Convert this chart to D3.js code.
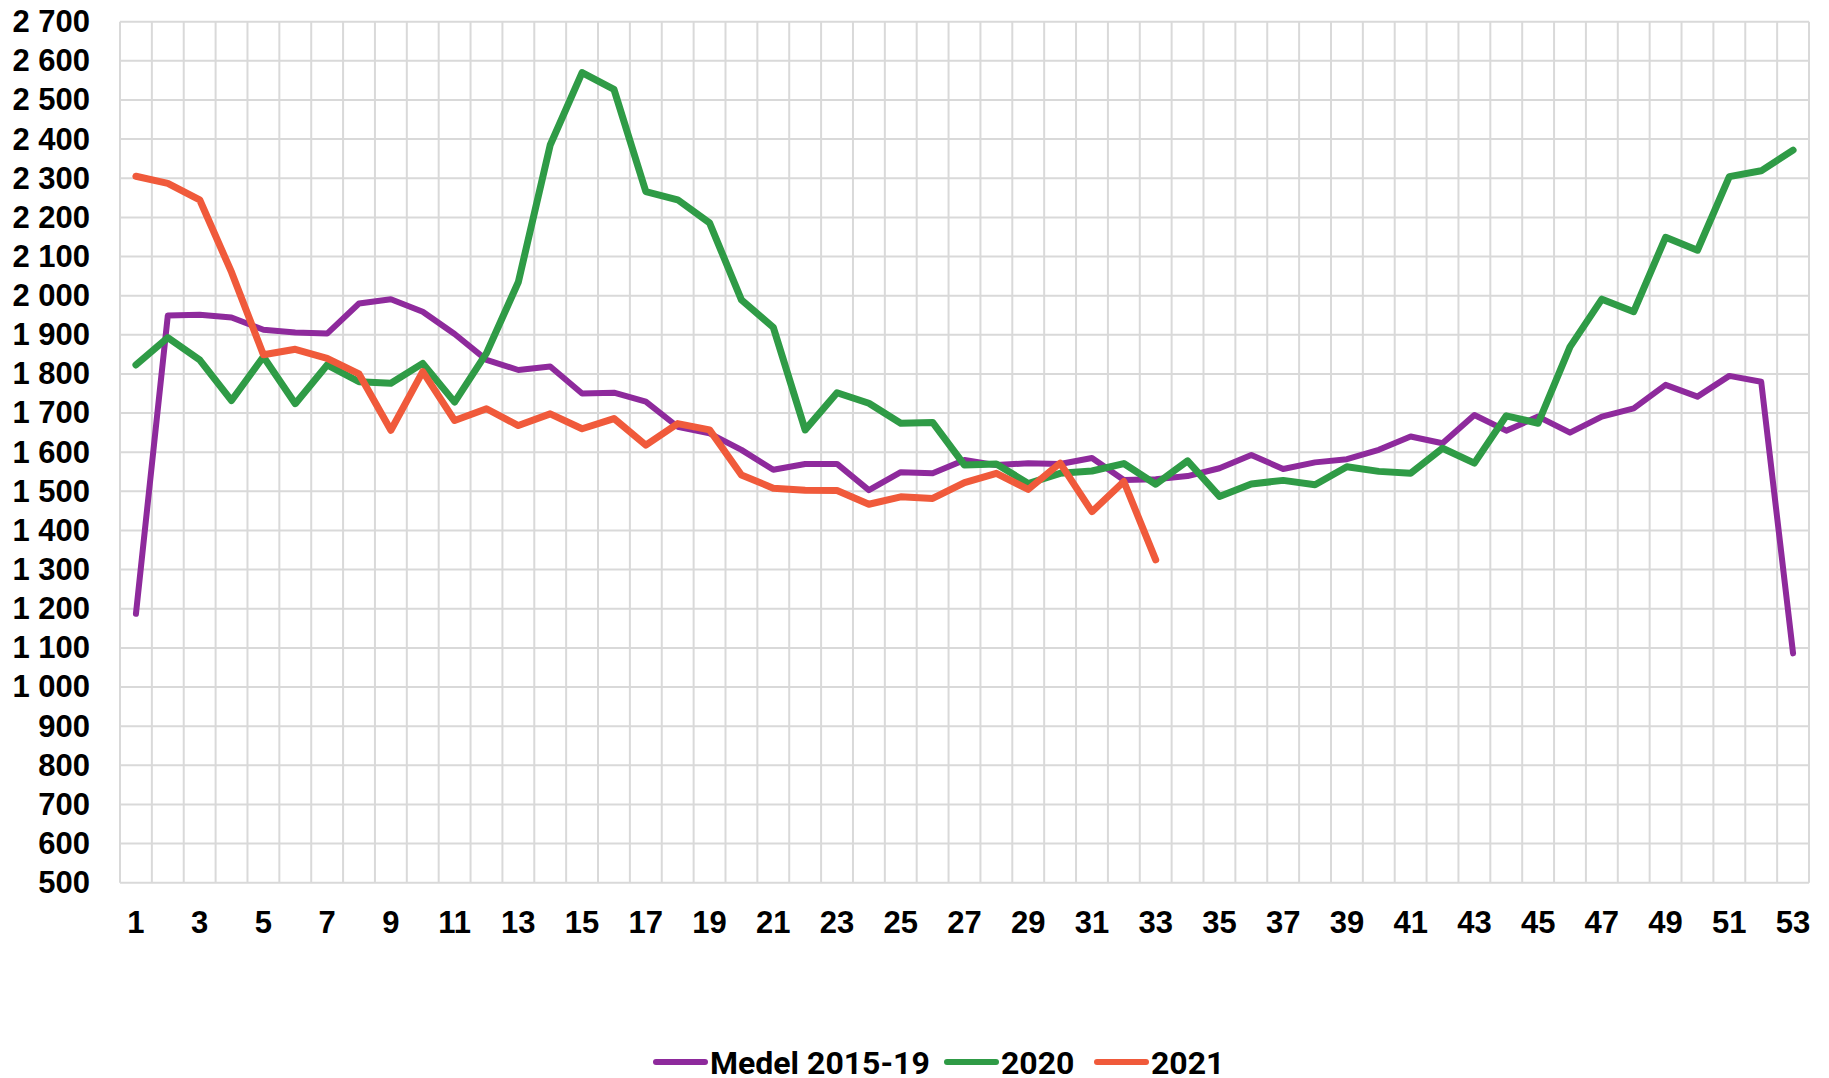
<!DOCTYPE html>
<html>
<head>
<meta charset="utf-8">
<script src="https://cdn.jsdelivr.net/npm/d3@7"></script>
<style>
  body { margin: 0; background: #fff; }
  svg { display: block; font-family: Roboto, "Noto Sans", sans-serif; }
</style>
</head>
<body>
<svg id="chart"></svg>
<script>
// veckor 1-53
const weeks = d3.range(1, 54);

const medel = [1187, 1949, 1951, 1944, 1913, 1906, 1903, 1980, 1991, 1959,
  1902, 1836, 1810, 1819, 1750, 1752, 1729, 1665, 1648, 1606,
  1555, 1570, 1570, 1503, 1549, 1546, 1580, 1567, 1572, 1570,
  1585, 1529, 1531, 1539, 1559, 1593, 1557, 1574, 1582, 1606,
  1640, 1623, 1695, 1655, 1691, 1650, 1691, 1712, 1772, 1742,
  1795, 1780, 1086];

const y2020 = [1823, 1893, 1836, 1732, 1844, 1724, 1823, 1780, 1776, 1827,
  1728, 1853, 2035, 2385, 2570, 2527, 2266, 2245, 2186, 1989,
  1919, 1657, 1752, 1725, 1674, 1676, 1567, 1570, 1520, 1546,
  1552, 1571, 1518, 1578, 1487, 1519, 1528, 1517, 1563, 1551,
  1546, 1610, 1572, 1693, 1674, 1869, 1991, 1959, 2149, 2116,
  2304, 2319, 2372];

const y2021 = [2305, 2287, 2245, 2060, 1849, 1863, 1840, 1800, 1656, 1806,
  1681, 1711, 1668, 1698, 1660, 1686, 1618, 1673, 1657, 1542,
  1508, 1503, 1502, 1467, 1486, 1482, 1522, 1546, 1505, 1572,
  1448, 1525, 1325];

const seriesNames = ["Medel 2015-19", "2020", "2021"];
const seriesColors = ["#8E2A9C", "#2F9B46", "#F05A3B"];
const yTicks = d3.range(500, 2701, 100);

const width = 1829, height = 1078;
const margin = { top: 21.7, right: 20, bottom: 195.3, left: 120 };

const svg = d3.select("#chart").attr("width", width).attr("height", height);

const x = d3.scaleBand()
  .domain(weeks)
  .range([margin.left, width - margin.right]);

const y = d3.scaleLinear()
  .domain([500, 2700])
  .range([height - margin.bottom, margin.top]);

const fmt = d3.formatLocale({ decimal: ",", thousands: " ", grouping: [3], currency: ["", ""] }).format(",d");

// grid
const grid = svg.append("g").attr("stroke", "#d9d9d9").attr("stroke-width", 2);
grid.selectAll("line.h").data(yTicks).join("line")
  .attr("class", "h")
  .attr("x1", margin.left).attr("x2", width - margin.right)
  .attr("y1", d => y(d)).attr("y2", d => y(d));
const bounds = weeks.map(w => x(w)).concat([x(53) + x.bandwidth()]);
grid.selectAll("line.v").data(bounds).join("line")
  .attr("class", "v")
  .attr("x1", d => d).attr("x2", d => d)
  .attr("y1", y(2700)).attr("y2", y(500));

// y axis
svg.append("g")
  .attr("transform", "translate(" + (margin.left - 30) + ",0)")
  .call(d3.axisLeft(y).tickValues(yTicks).tickFormat(fmt).tickSize(0).tickPadding(0))
  .call(g => g.select(".domain").remove())
  .selectAll("text")
  .attr("font-size", 31).attr("font-weight", 700).attr("fill", "#000");

// x axis
svg.append("g")
  .attr("transform", "translate(0," + y(500) + ")")
  .call(d3.axisBottom(x).tickValues(weeks.filter(w => w % 2 === 1)).tickSize(0).tickPadding(28))
  .call(g => g.select(".domain").remove())
  .selectAll("text")
  .attr("font-size", 31).attr("font-weight", 700).attr("fill", "#000");

// lines
const line = d3.line()
  .x((d, i) => x(weeks[i]) + x.bandwidth() / 2)
  .y(d => y(d));

[medel, y2020, y2021].forEach((s, k) => {
  svg.append("path")
    .datum(s)
    .attr("fill", "none")
    .attr("stroke", seriesColors[k])
    .attr("stroke-width", k === 0 ? 6 : 7)
    .attr("stroke-linejoin", "round")
    .attr("stroke-linecap", "round")
    .attr("d", line);
});

// legend
const legend = svg.append("g").attr("transform", "translate(0,1062)");
const legX = [653, 944, 1094];
seriesNames.forEach((name, k) => {
  const g = legend.append("g").attr("transform", "translate(" + legX[k] + ",0)");
  g.append("line")
    .attr("x1", 3).attr("x2", 52)
    .attr("stroke", seriesColors[k]).attr("stroke-width", 6)
    .attr("stroke-linecap", "round");
  g.append("text")
    .attr("x", 57).attr("y", 12)
    .attr("font-size", 32).attr("font-weight", 700)
    .text(name);
});
</script>
</body>
</html>
